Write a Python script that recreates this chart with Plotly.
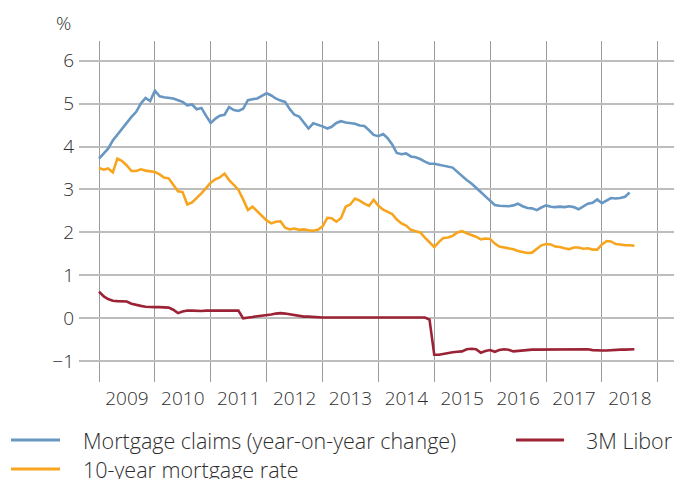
import pandas as pd
import plotly.graph_objects as go

# Monthly observations, January 2009 onwards (percent)
claims_yoy = [
    3.72, 3.83, 3.95, 4.14, 4.28, 4.43, 4.57, 4.69, 4.81, 5.00, 5.13, 5.06,
    5.30, 5.17, 5.15, 5.14, 5.12, 5.08, 5.04, 4.96, 4.98, 4.87, 4.90, 4.72,
    4.55, 4.65, 4.72, 4.74, 4.92, 4.85, 4.83, 4.88, 5.08, 5.10, 5.12, 5.18,
    5.24, 5.19, 5.12, 5.07, 5.04, 4.87, 4.74, 4.70, 4.56, 4.42, 4.54, 4.51,
    4.47, 4.42, 4.46, 4.55, 4.59, 4.56, 4.55, 4.53, 4.49, 4.48, 4.38, 4.27,
    4.24, 4.29, 4.20, 4.05, 3.85, 3.82, 3.84, 3.77, 3.75, 3.71, 3.65, 3.60,
    3.60, 3.58, 3.55, 3.53, 3.51, 3.41, 3.31, 3.22, 3.14, 3.03, 2.94, 2.84,
    2.73, 2.64, 2.62, 2.61, 2.61, 2.63, 2.67, 2.61, 2.57, 2.56, 2.52, 2.58,
    2.63, 2.60, 2.59, 2.60, 2.59, 2.61, 2.59, 2.54, 2.61, 2.67, 2.69, 2.77,
    2.68, 2.75, 2.80, 2.79, 2.80, 2.83, 2.93,
]

mortgage_rate_10y = [
    3.50, 3.46, 3.49, 3.40, 3.72, 3.66, 3.56, 3.43, 3.43, 3.47, 3.44, 3.42,
    3.41, 3.35, 3.28, 3.26, 3.10, 2.96, 2.94, 2.65, 2.70, 2.80, 2.91, 3.03,
    3.16, 3.24, 3.28, 3.37, 3.22, 3.11, 2.99, 2.77, 2.52, 2.60, 2.50, 2.40,
    2.28, 2.21, 2.25, 2.26, 2.11, 2.07, 2.09, 2.06, 2.07, 2.05, 2.04, 2.06,
    2.14, 2.34, 2.33, 2.25, 2.33, 2.60, 2.65, 2.79, 2.74, 2.67, 2.62, 2.76,
    2.62, 2.53, 2.49, 2.43, 2.30, 2.21, 2.16, 2.06, 2.03, 2.00, 1.88, 1.76,
    1.66, 1.78, 1.87, 1.88, 1.92, 2.00, 2.03, 1.98, 1.94, 1.90, 1.84, 1.86,
    1.85, 1.74, 1.67, 1.65, 1.64, 1.61, 1.57, 1.54, 1.52, 1.53, 1.61, 1.70,
    1.73, 1.72, 1.67, 1.66, 1.63, 1.61, 1.65, 1.65, 1.62, 1.63, 1.60, 1.60,
    1.72, 1.80, 1.79, 1.73, 1.72, 1.70, 1.70, 1.69,
]

libor_3m = [
    0.62, 0.51, 0.45, 0.41, 0.40, 0.40, 0.39, 0.34, 0.31, 0.29, 0.27, 0.26,
    0.26, 0.26, 0.25, 0.25, 0.20, 0.12, 0.16, 0.18, 0.18, 0.17, 0.17, 0.18,
    0.18, 0.18, 0.19, 0.19, 0.19, 0.19, 0.18, 0.00, 0.01, 0.03, 0.05, 0.06,
    0.07, 0.09, 0.11, 0.12, 0.11, 0.09, 0.08, 0.06, 0.04, 0.04, 0.03, 0.02,
    0.02, 0.02, 0.02, 0.02, 0.02, 0.02, 0.02, 0.02, 0.02, 0.02, 0.03, 0.03,
    0.02, 0.02, 0.02, 0.03, 0.03, 0.02, 0.02, 0.02, 0.03, 0.02, 0.02, -0.03,
    -0.85, -0.85, -0.83, -0.80, -0.79, -0.78, -0.77, -0.72, -0.71, -0.72, -0.80, -0.76,
    -0.74, -0.78, -0.74, -0.72, -0.73, -0.77, -0.76, -0.74, -0.74, -0.73, -0.73, -0.73,
    -0.72, -0.72, -0.72, -0.72, -0.72, -0.72, -0.72, -0.72, -0.72, -0.72, -0.74, -0.75,
    -0.75, -0.75, -0.74, -0.74, -0.73, -0.73, -0.73, -0.72,
]

series_names = [
    "Mortgage claims (year-on-year change)",
    "3M Libor",
    "10-year mortgage rate",
]

BLUE = "#6797C2"
RED = "#9B2335"
ORANGE = "#F7A51E"
TEXT = "#2e2e2e"
FONT = "Open Sans"
AXIS_FONT = dict(family=FONT, size=19, color=TEXT, weight=300)
LEGEND_FONT = dict(family=FONT, size=21.5, color=TEXT, weight=300)

def months(n):
    return pd.date_range("2009-01-01", periods=n, freq="MS")

fig = go.Figure()
fig.add_trace(go.Scatter(x=months(len(claims_yoy)), y=claims_yoy, mode="lines",
                         line=dict(color=BLUE, width=2.6), name=series_names[0]))
fig.add_trace(go.Scatter(x=months(len(mortgage_rate_10y)), y=mortgage_rate_10y, mode="lines",
                         line=dict(color=ORANGE, width=2.6), name=series_names[2]))
fig.add_trace(go.Scatter(x=months(len(libor_3m)), y=libor_3m, mode="lines",
                         line=dict(color=RED, width=2.6), name=series_names[1]))

W, H = 674, 479
L, R, T, B = 79, 0, 41, 97
PW, PH = W - L - R, H - T - B

def px(xp):
    return (xp - L) / PW

def py(yp):
    return (H - B - yp) / PH

fig.update_layout(
    width=W, height=H, autosize=False,
    margin=dict(l=L, r=R, t=T, b=B, pad=0),
    paper_bgcolor="white", plot_bgcolor="white",
    showlegend=False,
    font=AXIS_FONT,
)

fig.update_xaxes(
    type="date", range=["2008-08-23", "2019-04-17"],
    tick0="2009-01-01", dtick="M12", tickformat="%Y", ticklabelmode="period",
    showgrid=True, gridcolor="#9c9c9c", gridwidth=1,
    zeroline=False, showline=False, ticks="",
    tickfont=AXIS_FONT, ticklabelstandoff=3,
)
fig.update_yaxes(
    range=[-1.483, 6.458], tick0=0, dtick=1,
    showgrid=True, gridcolor="#bdbdbd", gridwidth=1.5,
    zeroline=False, showline=False, ticks="",
    tickfont=AXIS_FONT, ticklabelstandoff=4,
)

# unit label above the value axis
fig.add_annotation(text="%", xref="paper", yref="paper", x=px(73), y=py(23),
                   xanchor="right", yanchor="middle", showarrow=False,
                   font=AXIS_FONT)

# legend drawn below the plot
legend_items = [
    (series_names[0], BLUE, 11, 60, 81, 440),
    (series_names[1], RED, 516, 564, 584, 440),
    (series_names[2], ORANGE, 11, 60, 81, 469),
]
for label, color, x0, x1, xt, yl in legend_items:
    fig.add_shape(type="line", xref="paper", yref="paper",
                  x0=px(x0), x1=px(x1), y0=py(yl), y1=py(yl),
                  line=dict(color=color, width=3))
    fig.add_annotation(text=label, xref="paper", yref="paper", x=px(xt), y=py(yl),
                       xanchor="left", yanchor="middle", showarrow=False,
                       font=LEGEND_FONT)

fig.write_html("out.html")
